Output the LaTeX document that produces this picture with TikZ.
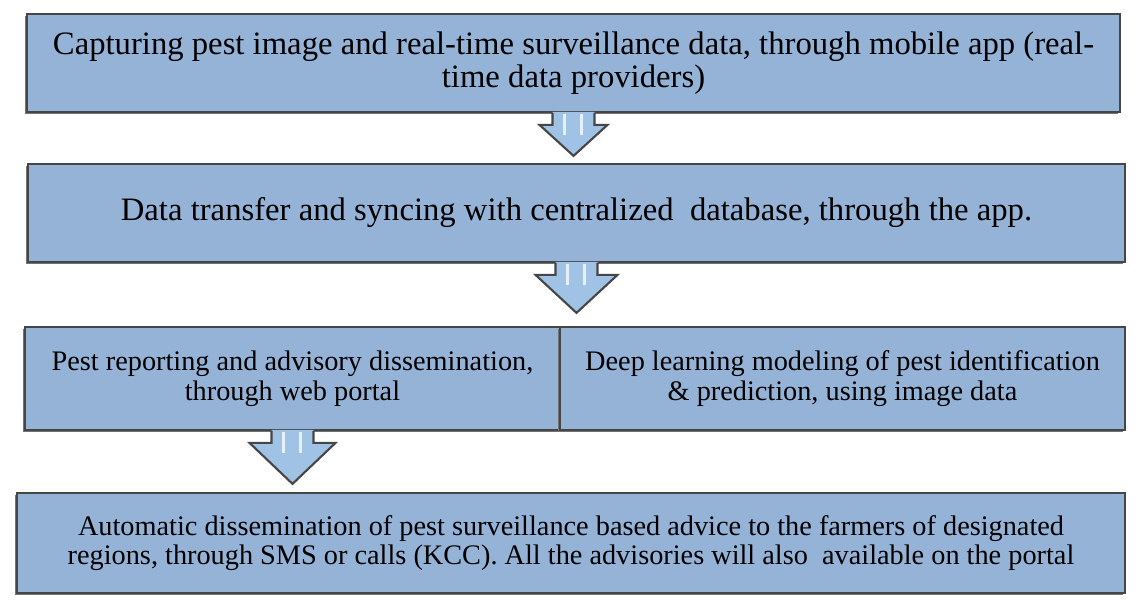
\documentclass[tikz,border=0pt]{standalone}
\usepackage{fontspec}
\setmainfont{Liberation Serif}
\usetikzlibrary{shadows}

\definecolor{boxblue}{RGB}{149,179,215}
\definecolor{arrowblue}{RGB}{160,194,228}
\definecolor{edgegray}{RGB}{70,70,70}

\tikzset{
    stage/.style={draw=edgegray, line width=0.5pt, fill=boxblue, align=center, inner sep=0pt,
        drop shadow={shadow xshift=-0.6pt, shadow yshift=-0.6pt, fill=black!55, opacity=1}},
    bigtext/.style={font=\fontsize{9.3}{9.4}\selectfont},
    smalltext/.style={font=\fontsize{8.05}{8.4}\selectfont},
    flow/.style={draw=edgegray, line width=0.6pt, fill=arrowblue, line join=miter},
    shine/.style={draw=white!75!arrowblue, line width=0.8pt}
}

% #1 = anchor of the box, #2 = half width of the head, #3 = length to the tip
\newcommand{\flowarrow}[3]{
    \fill[arrowblue, shift={(#1)}] (-0.21,0.01) -- (-0.21,-0.12) -- (-#2,-0.12) -- (0,-#3)
        -- (#2,-0.12) -- (0.21,-0.12) -- (0.21,0.01) -- cycle;
    \draw[flow, fill=none, shift={(#1)}] (-0.21,0) -- (-0.21,-0.12) -- (-#2,-0.12) -- (0,-#3)
        -- (#2,-0.12) -- (0.21,-0.12) -- (0.21,0);
    \draw[shine, shift={(#1)}] (-0.09,-0.01) -- (-0.09,-0.22) (0.08,-0.01) -- (0.08,-0.22);
}

\begin{document}
\begin{tikzpicture}

    \useasboundingbox (0,0) rectangle (11.4,6.08);

    % Boxes of the work flow
    \node[stage, bigtext, minimum width=10.93cm, minimum height=0.98cm] (capture) at (5.735, 5.45)
        {Capturing pest image and real-time surveillance data, through mobile app (real-\\time data providers)};
    \node[stage, bigtext, minimum width=10.97cm, minimum height=0.98cm] (sync) at (5.765, 3.95)
        {Data transfer and syncing with centralized\ \ database, through the app.};
    \node[stage, smalltext, minimum width=5.35cm, minimum height=1.03cm] (report) at (2.925, 2.295)
        {Pest reporting and advisory dissemination,\\through web portal};
    \node[stage, smalltext, minimum width=5.65cm, minimum height=1.03cm] (model) at (8.425, 2.295)
        {Deep learning modeling of pest identification\\\& prediction, using image data};
    \node[stage, smalltext, minimum width=11.08cm, minimum height=1.0cm] (notify) at (5.71, 0.65)
        {Automatic dissemination of pest surveillance based advice to the farmers of designated\\regions, through SMS or calls (KCC). All the advisories will also\ \ available on the portal};

    % Block arrows between the boxes
    \flowarrow{capture.south}{0.34}{0.43}
    \flowarrow{sync.south}{0.41}{0.50}
    \flowarrow{report.south}{0.43}{0.53}

\end{tikzpicture}
\end{document}
